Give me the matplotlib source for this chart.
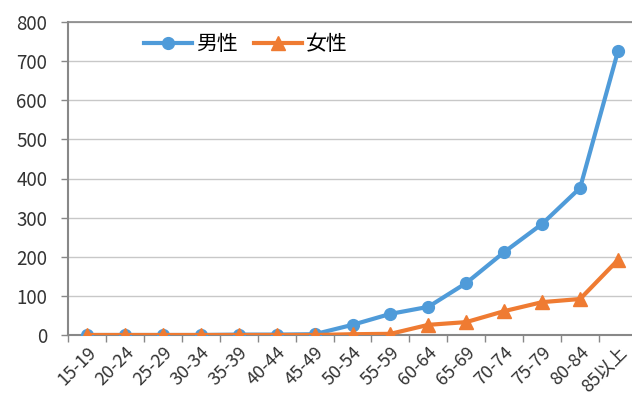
import matplotlib
matplotlib.use('Agg')
import matplotlib.pyplot as plt

plt.rcParams['font.family'] = ['Noto Sans CJK JP', 'DejaVu Sans']

# age groups and values
age_groups = ['15-19', '20-24', '25-29', '30-34', '35-39', '40-44', '45-49',
              '50-54', '55-59', '60-64', '65-69', '70-74', '75-79', '80-84', '85以上']
male = [0, 0, 0, 0, 1, 1, 2, 26, 54, 72, 133, 212, 284, 376, 726]
female = [0, 0, 0, 0, 0, 0, 0, 2, 3, 26, 33, 61, 84, 92, 192]
y_ticks = [0, 100, 200, 300, 400, 500, 600, 700, 800]

blue = '#4F9BD9'
orange = '#EF7B32'

fig = plt.figure(figsize=(6.32, 4.07), dpi=100)
ax = fig.add_axes([68 / 632, (407 - 335) / 407, 569 / 632, 313 / 407])

x = range(len(age_groups))
ax.plot(x, male, color=blue, lw=3, marker='o', ms=8.5, label='男性', zorder=3)
ax.plot(x, female, color=orange, lw=3, marker='^', ms=9.5, label='女性', zorder=4)

ax.set_ylim(0, 800)
ax.set_xlim(-0.5, 14.37)
ax.set_yticks(y_ticks)
ax.set_yticklabels([str(v) for v in y_ticks], fontsize=13.5, color='#333333')
ax.yaxis.grid(True, color='#C8C8C8', lw=1)
ax.set_axisbelow(True)

# category ticks sit between groups
ax.set_xticks([i + 0.5 for i in range(-1, len(age_groups))], minor=False)
ax.set_xticklabels([])
ax.set_xticks(list(x), minor=True)
ax.set_xticklabels(age_groups, minor=True, rotation=45, ha='right',
                   rotation_mode='anchor', fontsize=13, color='#333333')
ax.tick_params(axis='x', which='major', length=5, color='#888888', width=1)
ax.tick_params(axis='x', which='minor', length=0, pad=6)
ax.tick_params(axis='y', length=5, color='#888888', width=1, pad=10)

for side in ['left', 'bottom']:
    ax.spines[side].set_color('#888888')
    ax.spines[side].set_linewidth(1.5)
ax.spines['top'].set_color('#888888')
ax.spines['top'].set_linewidth(1.2)
ax.spines['right'].set_visible(False)

ax.legend(loc='upper left', bbox_to_anchor=(0.1, 1.025), ncol=2, frameon=False,
          fontsize=15, handlelength=2.3, columnspacing=0.8, handletextpad=0.2)

fig.savefig('out.png', dpi=100)
